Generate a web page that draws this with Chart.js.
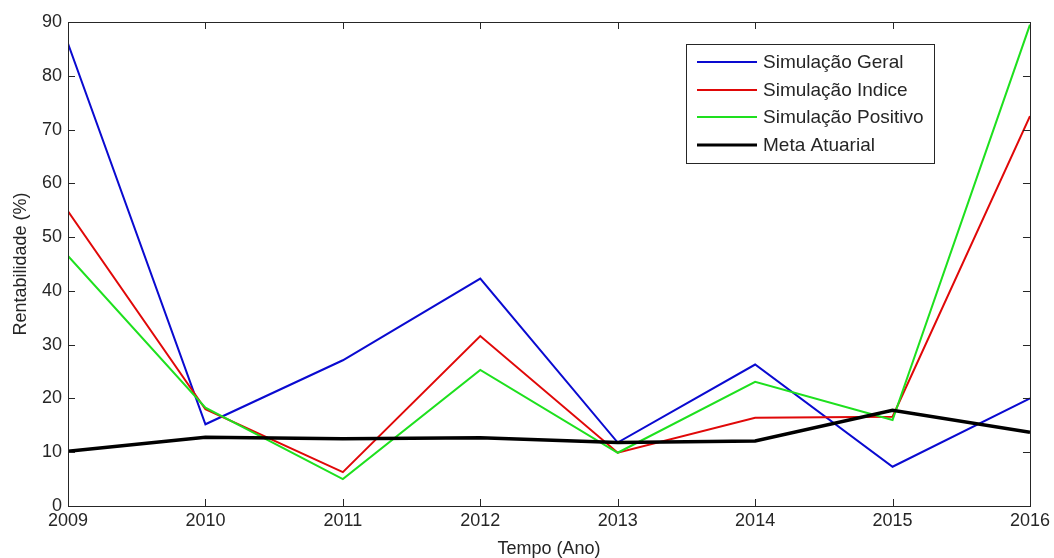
<!DOCTYPE html>
<html>
<head>
<meta charset="utf-8">
<title>Rentabilidade</title>
<script src="https://cdn.jsdelivr.net/npm/chart.js@4"></script>
<style>
  html, body { margin: 0; padding: 0; background: #fff; }
  #wrap { width: 1054px; height: 558px; }
</style>
</head>
<body>
<div id="wrap"><canvas id="chart" width="1054" height="558"></canvas></div>
<script>
/* ── Data ── */
const years    = [2009, 2010, 2011, 2012, 2013, 2014, 2015, 2016];
const geral    = [86, 15.2, 27.1, 42.3, 11.8, 26.3, 7.3, 20];
const indice   = [54.8, 18, 6.3, 31.6, 9.9, 16.4, 16.6, 72.5];
const positivo = [46.5, 18.3, 5, 25.3, 9.9, 23.1, 16, 89.5];
const meta     = [10.2, 12.8, 12.5, 12.7, 11.8, 12.1, 17.8, 13.7];

const seriesNames = ['Simulação Geral', 'Simulação Indice', 'Simulação Positivo', 'Meta Atuarial'];
const seriesColors = ['#0a0ad0', '#e00808', '#1ee01e', '#000000'];
const seriesWidths = [2, 2, 2, 3.5];

const FONT = '"Liberation Sans", Arial, sans-serif';
const INK = '#262626';

const pts = arr => arr.map((v, i) => ({ x: years[i], y: v }));

/* ── Plugins: MATLAB-like box with inward ticks, and legend ── */
const boxTicks = {
  id: 'boxTicks',
  afterDraw(chart) {
    const { ctx, chartArea: a, scales: { x, y } } = chart;
    const L = 7;
    ctx.save();
    ctx.strokeStyle = INK;
    ctx.lineWidth = 1;
    ctx.beginPath();
    x.ticks.forEach(t => {
      const px = Math.round(x.getPixelForValue(t.value)) + 0.5;
      ctx.moveTo(px, a.bottom); ctx.lineTo(px, a.bottom - L);
      ctx.moveTo(px, a.top);    ctx.lineTo(px, a.top + L);
    });
    y.ticks.forEach(t => {
      const py = Math.round(y.getPixelForValue(t.value)) + 0.5;
      ctx.moveTo(a.left, py);  ctx.lineTo(a.left + L, py);
      ctx.moveTo(a.right, py); ctx.lineTo(a.right - L, py);
    });
    ctx.stroke();
    ctx.strokeRect(Math.round(a.left) + 0.5, Math.round(a.top) + 0.5,
                   Math.round(a.right - a.left), Math.round(a.bottom - a.top));
    ctx.restore();
  }
};

const boxLegend = {
  id: 'boxLegend',
  afterDraw(chart) {
    const ctx = chart.ctx;
    const bx = 686, by = 44, bw = 248, bh = 119;
    const rows = [62, 90, 117, 145];
    ctx.save();
    ctx.fillStyle = '#fff';
    ctx.fillRect(bx, by, bw, bh);
    ctx.strokeStyle = INK;
    ctx.lineWidth = 1;
    ctx.strokeRect(bx + 0.5, by + 0.5, bw, bh);
    ctx.font = '19px ' + FONT;
    ctx.textBaseline = 'middle';
    seriesNames.forEach((name, i) => {
      ctx.strokeStyle = seriesColors[i];
      ctx.lineWidth = i === 3 ? 3 : seriesWidths[i];
      ctx.beginPath();
      ctx.moveTo(697, rows[i]); ctx.lineTo(757, rows[i]);
      ctx.stroke();
      ctx.fillStyle = INK;
      ctx.fillText(name, 763, rows[i] + 1);
    });
    ctx.restore();
  }
};

/* ── Chart ── */
const datasets = [geral, indice, positivo, meta].map((arr, i) => ({
  label: seriesNames[i],
  data: pts(arr),
  borderColor: seriesColors[i],
  backgroundColor: seriesColors[i],
  borderWidth: seriesWidths[i],
  pointRadius: 0,
  tension: 0,
  order: 4 - i
}));

new Chart(document.getElementById('chart').getContext('2d'), {
  type: 'line',
  data: { datasets },
  plugins: [boxTicks, boxLegend],
  options: {
    responsive: false,
    animation: false,
    devicePixelRatio: 1,
    layout: { padding: { top: 22, right: 22, left: 0, bottom: 0 } },
    plugins: { legend: { display: false }, tooltip: { enabled: false } },
    scales: {
      x: {
        type: 'linear', min: 2009, max: 2016,
        grid: { display: false, drawTicks: false },
        border: { display: false },
        ticks: { stepSize: 1, padding: 4, color: INK, font: { family: FONT, size: 18 },
                 callback: v => String(v), maxRotation: 0 },
        title: { display: true, text: 'Tempo (Ano)', color: INK,
                 font: { family: FONT, size: 18, lineHeight: 1 }, padding: { top: 0, bottom: 0 } },
        afterFit: s => { s.height = 52; }
      },
      y: {
        min: 0, max: 90,
        grid: { display: false, drawTicks: false },
        border: { display: false },
        ticks: { stepSize: 10, padding: 6, color: INK, font: { family: FONT, size: 18 } },
        title: { display: true, text: 'Rentabilidade (%)', color: INK,
                 font: { family: FONT, size: 18, lineHeight: 1 }, padding: { top: 12, bottom: 0 } },
        afterFit: s => { s.width = 68; }
      }
    }
  }
});
</script>
</body>
</html>
